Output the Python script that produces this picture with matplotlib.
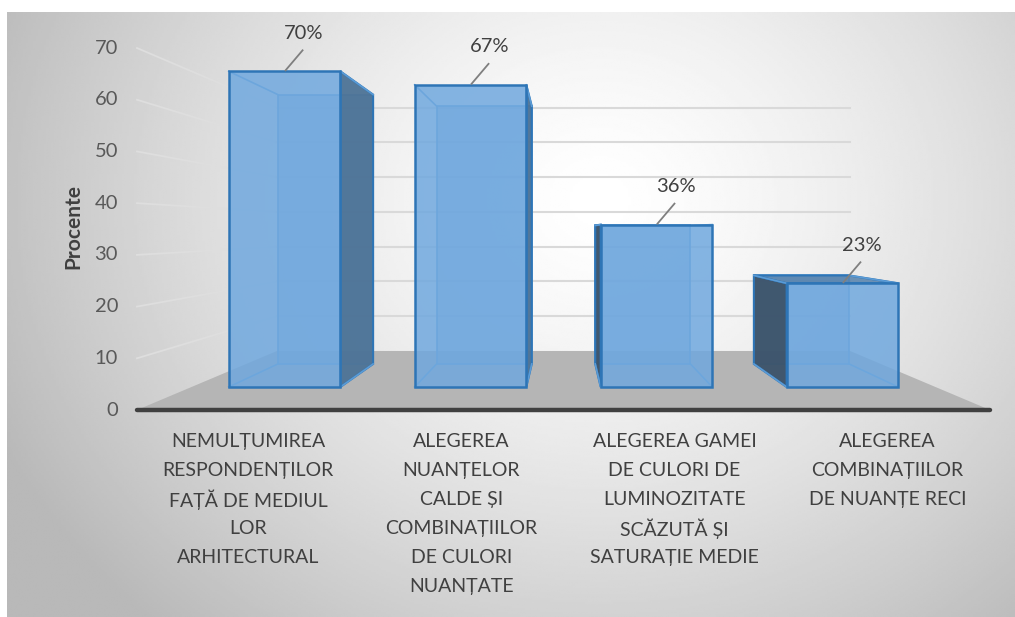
import numpy as np
import matplotlib
matplotlib.use("Agg")
import matplotlib.pyplot as plt
from matplotlib.patches import Polygon

plt.rcParams['font.family'] = ['Lato', 'DejaVu Sans']

# date
categorii = [
    "NEMULȚUMIREA\nRESPONDENȚILOR\nFAȚĂ DE MEDIUL\nLOR\nARHITECTURAL",
    "ALEGEREA\nNUANȚELOR\nCALDE ȘI\nCOMBINAȚIILOR\nDE CULORI\nNUANȚATE",
    "ALEGEREA GAMEI\nDE CULORI DE\nLUMINOZITATE\nSCĂZUTĂ ȘI\nSATURAȚIE MEDIE",
    "ALEGEREA\nCOMBINAȚIILOR\nDE NUANȚE RECI",
]
procente = [70, 67, 36, 23]
etichete = ["70%", "67%", "36%", "23%"]
y_ticks = [0, 10, 20, 30, 40, 50, 60, 70]

# scara: pixeli pe unitate in planul din fata
PX_X = 213.25
PX_Y = 5.171
W, H = 1015, 617

# perspectiva (punct de fuga) si adancimi
VX, VY = 2.0, 34.8
S_FATA, S_SPATE, S_PERETE = 0.872, 0.744, 0.672
LATIME = 0.3  # jumatate din latimea barei, in unitati de categorie


def proj(x, v, s):
    return VX + (x - VX) * s, VY + (v - VY) * s


fig = plt.figure(figsize=(W / 100, H / 100), dpi=100)
fig.patch.set_facecolor("white")

# fundal cu gradient
bg = fig.add_axes([7 / W, 0, (W - 7) / W, (H - 12) / H])
gx, gy = np.meshgrid(np.linspace(7, W, 400), np.linspace(12, H, 300))
d = np.sqrt(((gx - 600) / 600) ** 2 + ((gy - 200) / 520) ** 2)
val = 1.0 - 0.24 * np.clip(d, 0, 1.1) ** 1.4
bg.imshow(val, cmap="gray", vmin=0, vmax=1, aspect="auto",
          extent=[0, 1, 0, 1], origin="upper", interpolation="bilinear")
bg.axis("off")

ax = fig.add_axes([0, 0, 1, 1])
ax.set_xlim(-137 / PX_X, (W - 137) / PX_X)
ax.set_ylim(-207 / PX_Y, (H - 207) / PX_Y)
ax.patch.set_alpha(0)
ax.axis("off")

n = len(categorii)

# podea
podea = [proj(0, 0, 1), proj(n, 0, 1), proj(n, 0, S_PERETE), proj(0, 0, S_PERETE)]
ax.add_patch(Polygon(podea, closed=True, facecolor="#b5b5b5", edgecolor="none", zorder=1))

# linii de grila: perete stang + perete din spate
for t in y_ticks[1:]:
    x0, y0 = proj(0, t, 1)
    x1, y1 = proj(0, t, S_PERETE)
    x2, y2 = proj(n, t, S_PERETE)
    ax.plot([x0, x1], [y0, y1], color="#dedede", lw=1.3, zorder=1.5)
    ax.plot([x1, x2], [y1, y2], color="#d9d9d9", lw=1.5, zorder=1.5)

# axa orizontala
ax.plot([0, n], [0, 0], color="#404040", lw=3.2, solid_capstyle="round", zorder=2)

# etichete axa y
for t in y_ticks:
    ax.text(-19 / PX_X, t, str(t), ha="right", va="center", fontsize=14.5, color="#595959")
ax.text(-64 / PX_X, 35.5, "Procente", rotation=90, ha="center", va="center",
        fontsize=15, fontweight="bold", color="#404040")

albastru = (0.44, 0.66, 0.87, 0.85)
margine = "#2e75b6"

for i, v in enumerate(procente):
    c = i + 0.5
    xl, xr = c - LATIME, c + LATIME
    fbl, fbr = proj(xl, 0, S_FATA), proj(xr, 0, S_FATA)
    ftl, ftr = proj(xl, v, S_FATA), proj(xr, v, S_FATA)
    bbl, bbr = proj(xl, 0, S_SPATE), proj(xr, 0, S_SPATE)
    btl, btr = proj(xl, v, S_SPATE), proj(xr, v, S_SPATE)
    z = 3 + i * 0.1
    # fata din spate
    ax.add_patch(Polygon([bbl, bbr, btr, btl], closed=True, facecolor=(0.42, 0.63, 0.85, 0.55),
                         edgecolor="#5b9bd5", lw=1.2, zorder=z))
    # fata laterala vizibila
    if c < VX:
        lat = [fbr, bbr, btr, ftr]
        culoare = (0.30, 0.45, 0.59, 0.95)
    else:
        lat = [fbl, bbl, btl, ftl]
        culoare = (0.23, 0.32, 0.41, 0.95)
    ax.add_patch(Polygon(lat, closed=True, facecolor=culoare, edgecolor=margine, lw=1.5, zorder=z + 0.01))
    # capac (vizibil doar sub nivelul ochiului)
    if v < VY:
        ax.add_patch(Polygon([ftl, ftr, btr, btl], closed=True, facecolor=(0.33, 0.50, 0.67, 0.85),
                             edgecolor=margine, lw=1.5, zorder=z + 0.02))
    # muchii interioare
    for a, b in [(fbl, bbl), (fbr, bbr), (ftl, btl), (ftr, btr)]:
        ax.plot([a[0], b[0]], [a[1], b[1]], color="#5b9bd5", lw=1.2, zorder=z + 0.03)
    # fata din fata
    ax.add_patch(Polygon([fbl, fbr, ftr, ftl], closed=True, facecolor=albastru,
                         edgecolor=margine, lw=1.8, zorder=z + 0.04))

    # eticheta de date cu linie de legatura
    tx, ty = proj(c, v, S_FATA)
    ax.plot([tx + 1 / PX_X, tx + 18 / PX_X], [ty + 1 / PX_Y, ty + 21 / PX_Y],
            color="#7f7f7f", lw=1.3, zorder=5)
    ax.text(tx + 19 / PX_X, ty + 38 / PX_Y, etichete[i], ha="center", va="center",
            fontsize=14.5, color="#404040", zorder=5)

    # eticheta categorie, rand cu rand (spatiere constanta)
    for k, rand in enumerate(categorii[i].split("\n")):
        ax.text(c + 0.02, -(30 + 29 * k) / PX_Y, rand, ha="center", va="center_baseline",
                fontsize=14, color="#404040")

fig.savefig("out.png", dpi=100)
